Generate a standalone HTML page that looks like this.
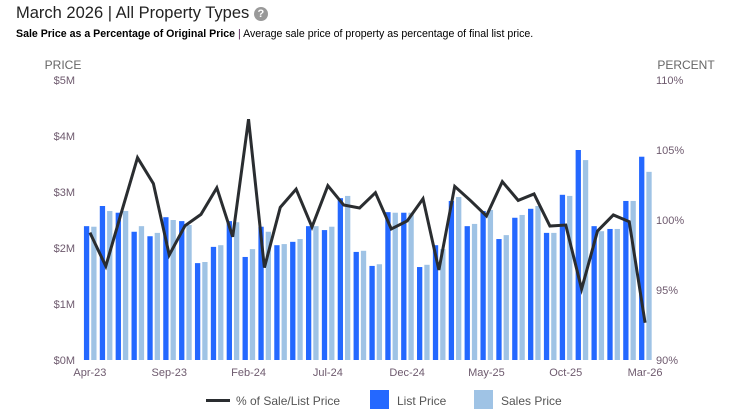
<!DOCTYPE html>
<html><head><meta charset="utf-8"><style>
body{margin:0;background:#fff;font-family:"Liberation Sans",Arial,sans-serif;}
#wrap{position:relative;width:746px;height:419px;overflow:hidden;}
.t{position:absolute;white-space:nowrap;}
</style></head><body>
<div id="wrap">
<div class="t" style="left:16px;top:4px;font-size:16.5px;color:#222;">March 2026 | All Property Types <span style="display:inline-block;width:14px;height:14px;border-radius:50%;background:#999;color:#fff;font-size:11px;font-weight:bold;text-align:center;line-height:14px;vertical-align:1px;">?</span></div>
<div class="t" style="left:16px;top:28px;font-size:10.6px;color:#000;"><b>Sale Price as a Percentage of Original Price</b> <span style="color:#552255">|</span> Average sale price of property as percentage of final list price.</div>
<svg id="chart" width="746" height="419" style="position:absolute;left:0;top:0;font-family:'Liberation Sans',Arial,sans-serif;"></svg>
</div>
<script>
const months=["Apr-23","May-23","Jun-23","Jul-23","Aug-23","Sep-23","Oct-23","Nov-23","Dec-23","Jan-24","Feb-24","Mar-24","Apr-24","May-24","Jun-24","Jul-24","Aug-24","Sep-24","Oct-24","Nov-24","Dec-24","Jan-25","Feb-25","Mar-25","Apr-25","May-25","Jun-25","Jul-25","Aug-25","Sep-25","Oct-25","Nov-25","Dec-25","Jan-26","Feb-26","Mar-26"];
const listPrice=[2.39,2.75,2.63,2.29,2.21,2.55,2.48,1.73,2.02,2.48,1.84,2.38,2.05,2.11,2.39,2.32,2.89,1.93,1.68,2.64,2.63,1.66,2.05,2.84,2.39,2.66,2.16,2.54,2.70,2.27,2.95,3.75,2.39,2.34,2.84,3.63];
const salesPrice=[2.38,2.66,2.66,2.39,2.27,2.50,2.41,1.75,2.05,2.46,1.98,2.29,2.07,2.16,2.39,2.38,2.93,1.95,1.71,2.63,2.63,1.70,1.98,2.91,2.43,2.68,2.23,2.59,2.75,2.27,2.93,3.57,2.30,2.34,2.84,3.36];
const pct=[99.1,96.7,100.6,104.45,102.6,97.5,99.6,100.4,102.3,98.8,107.2,96.6,100.9,102.2,99.5,102.45,101.07,100.86,101.95,99.36,99.93,101.52,96.43,102.4,101.38,100.29,102.74,101.4,101.86,99.57,99.64,95.07,99.21,100.36,99.88,92.66];
const leftTicks=["$0M","$1M","$2M","$3M","$4M","$5M"];
const rightTicks=["90%","95%","100%","105%","110%"];

const svg=document.getElementById('chart');const NS='http://www.w3.org/2000/svg';
const L=82,R=653,T=80,B=360;
const slot=(R-L)/months.length;
const xc=i=>L+slot*(i+0.5);
const yP=v=>B-(v/5)*(B-T);
const yR=v=>B-((v-90)/20)*(B-T);
function mk(tag,attrs,txt){const e=document.createElementNS(NS,tag);for(const k in attrs)e.setAttribute(k,attrs[k]);if(txt!=null)e.textContent=txt;svg.appendChild(e);return e;}
const tc='#6e5a6e';
let e;
e=mk('text',{x:63,y:69,'text-anchor':'middle','font-size':12,fill:'#666'},'PRICE');


e=mk('text',{x:686,y:69,'text-anchor':'middle','font-size':12,fill:'#666'},'PERCENT');


leftTicks.forEach((t,i)=>{const el=mk('text',{x:75,y:yP(i)+4,'text-anchor':'end','font-size':11,fill:tc},t);

});
rightTicks.forEach((t,i)=>{const el=mk('text',{x:656,y:yR(90+i*5)+4,'font-size':11,fill:tc},t);

});
months.forEach((m,i)=>{
 const b1=mk('rect',{x:xc(i)-6,y:yP(listPrice[i]),width:5.3,height:B-yP(listPrice[i]),fill:'#2468ff'});
 
 
 const b2=mk('rect',{x:xc(i)+1.3,y:yP(salesPrice[i]),width:5.3,height:B-yP(salesPrice[i]),fill:'#9fc3e5'});
 
 
 if(i%5===0){const tl=mk('text',{x:xc(i),y:B+16,'text-anchor':'middle','font-size':11,fill:tc},m);
 
 }
});
const ln=mk('polyline',{points:pct.map((v,i)=>xc(i)+','+yR(v)).join(' '),fill:'none',stroke:'#2a2d30','stroke-width':3,'stroke-linejoin':'miter'});


const lg=[[206,'line','% of Sale/List Price'],[370,'#2468ff','List Price'],[474,'#9fc3e5','Sales Price']];
lg.forEach(([x,c,t])=>{
 if(c==='line'){const s=mk('rect',{x:x,y:399,width:24,height:3,fill:'#2a2d30'});
  const tx=mk('text',{x:x+30,y:405,'font-size':12,fill:'#555'},t);}
 else{const s=mk('rect',{x:x,y:390,width:19,height:19,fill:c});
  const tx=mk('text',{x:x+27,y:405,'font-size':12,fill:'#555'},t);}
});
</script>
</body></html>
